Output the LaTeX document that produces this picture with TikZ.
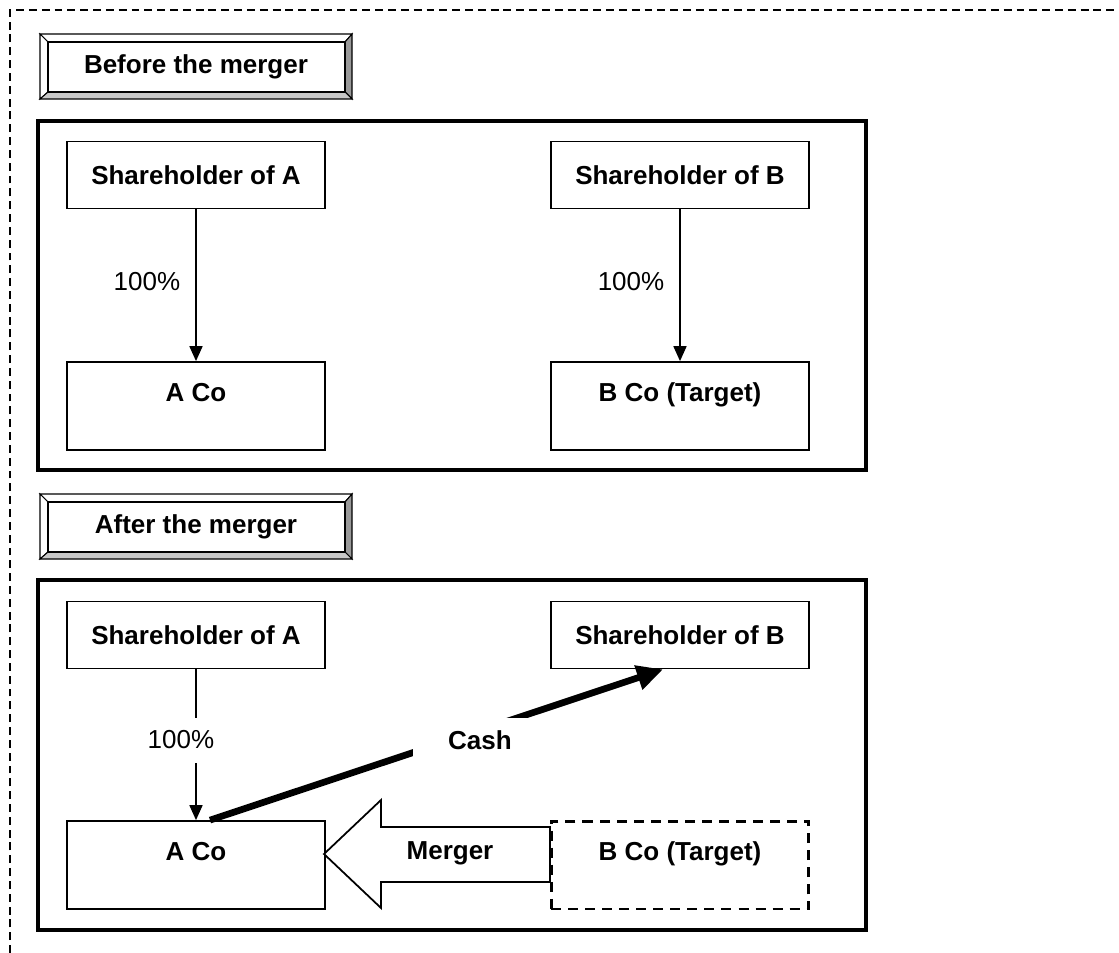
\documentclass[tikz,border=0pt]{standalone}
\usepackage{fontspec}
\setmainfont{Liberation Sans}
\usetikzlibrary{arrows.meta,positioning,calc}

\definecolor{bevelDark}{gray}{0.6}
\definecolor{bevelLight}{gray}{0.78}

\begin{document}
\begin{tikzpicture}[x=0.02cm, y=-0.02cm,
    every node/.style={font=\fontsize{14.8}{17.8}\selectfont},
    entity/.style={draw, line width=1pt, minimum width=5.16cm, minimum height=1.34cm,
      font=\fontsize{14.8}{17.8}\selectfont\bfseries},
    company/.style={entity, minimum height=1.76cm, text height=0.4cm, text depth=0.59cm},
    target/.style={company, line width=1.7pt, dash pattern=on 5.7pt off 4pt},
    frame/.style={line width=2pt},
    share/.style={line width=1pt, -{Triangle[length=0.3cm, width=0.26cm]}},
    cash/.style={line width=3.8pt, -{Triangle[length=0.52cm, width=0.48cm]}},
    pct/.style={fill=white, minimum height=0.9cm},
    bevel/.style={line width=0.6pt}]

      \useasboundingbox (0,0) rectangle (1119,953);

      % outer dashed border
      \draw[line width=1.1pt, dash pattern=on 4.5pt off 2.8pt] (10,953) -- (10,10) -- (1119,10);

      % before the merger
      \draw[bevel, fill=white] (40,34) -- (352,34) -- (345,42) -- (48,42) -- cycle;
      \draw[bevel, fill=white] (40,34) -- (48,42) -- (48,92) -- (40,99) -- cycle;
      \draw[bevel, fill=bevelDark] (352,34) -- (352,99) -- (345,92) -- (345,42) -- cycle;
      \draw[bevel, fill=bevelLight] (40,99) -- (352,99) -- (345,92) -- (48,92) -- cycle;
      \draw[line width=1.2pt] (48,42) rectangle (345,92);
      \node[font=\fontsize{14.8}{17.8}\selectfont\bfseries] (before) at (196,67) {Before the merger};

      \draw[frame] (38,121) rectangle (866,470);

      \node[entity]  at (196,175) (sa1) {Shareholder of A};
      \node[entity]  at (680,175) (sb1) {Shareholder of B};
      \node[company] at (196,406) (ac1) {A Co};
      \node[company] at (680,406) (bc1) {B Co (Target)};

      \draw[share] (sa1) -- (ac1);
      \draw[share] (sb1) -- (bc1);
      \node at (147,282) (p1) {100\%};
      \node at (631,282) (p2) {100\%};

      % after the merger
      \draw[bevel, fill=white] (40,494) -- (352,494) -- (345,502) -- (48,502) -- cycle;
      \draw[bevel, fill=white] (40,494) -- (48,502) -- (48,552) -- (40,559) -- cycle;
      \draw[bevel, fill=bevelDark] (352,494) -- (352,559) -- (345,552) -- (345,502) -- cycle;
      \draw[bevel, fill=bevelLight] (40,559) -- (352,559) -- (345,552) -- (48,552) -- cycle;
      \draw[line width=1.2pt] (48,502) rectangle (345,552);
      \node[font=\fontsize{14.8}{17.8}\selectfont\bfseries] (after) at (196,527) {After the merger};

      \draw[frame] (38,580) rectangle (866,930);

      \node[entity]  at (196,635) (sa2) {Shareholder of A};
      \node[entity]  at (680,635) (sb2) {Shareholder of B};
      \node[company] at (196,865) (ac2) {A Co};

      % merger arrow
      \draw[line width=1pt, fill=white] (324,854) -- (381,800) -- (381,827) -- (550,827)
            -- (550,882) -- (381,882) -- (381,908) -- cycle;
      \node[font=\fontsize{14.8}{17.8}\selectfont\bfseries] at (450,853) (merger) {Merger};

      \node[target]  at (680,865) (bc2) {B Co (Target)};

      \draw[share] (sa2) -- (ac2);
      \draw[cash] ([xshift=0.28cm]ac2.north) -- ([xshift=-0.34cm]sb2.south);
      \node[pct] at (181,740) (p3) {100\%};
      \node[pct, minimum width=2.7cm, font=\fontsize{14.8}{17.8}\selectfont\bfseries] at (480,740) (cash) {Cash};
    \end{tikzpicture}
\end{document}
